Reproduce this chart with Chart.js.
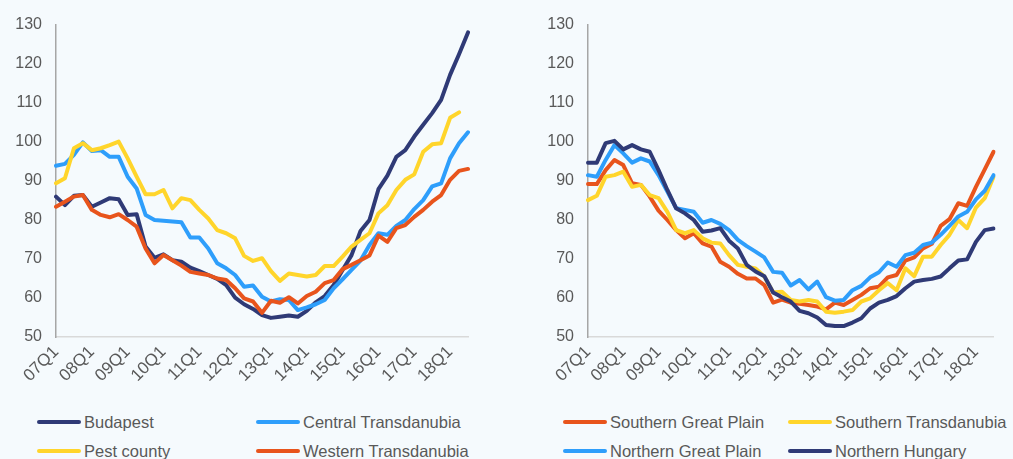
<!DOCTYPE html>
<html>
<head>
<meta charset="utf-8">
<script src="https://cdn.jsdelivr.net/npm/chart.js@4.4.1/dist/chart.umd.min.js"></script>
<style>
    body { margin: 0; background: #F5FAFD; width: 1013px; height: 459px; overflow: hidden; position: relative; }
    .box { position: absolute; top: 0; height: 400px; }
    .leg { position: absolute; height: 20px; display: flex; align-items: center; font: 16.5px 'Liberation Sans', Arial, sans-serif; color: #595959; white-space: nowrap; }
    .leg i { display: inline-block; width: 44px; height: 4px; border-radius: 2px; margin-right: 3px; }
</style>
</head>
<body>
<div class="box" style="left:0;width:506px"><canvas id="leftChart"></canvas></div>
<div class="box" style="left:506px;width:507px"><canvas id="rightChart"></canvas></div>
<div id="legends"></div>
<script>
const quarters = ['07Q1','07Q2','07Q3','07Q4','08Q1','08Q2','08Q3','08Q4','09Q1','09Q2','09Q3','09Q4',
    '10Q1','10Q2','10Q3','10Q4','11Q1','11Q2','11Q3','11Q4','12Q1','12Q2','12Q3','12Q4',
    '13Q1','13Q2','13Q3','13Q4','14Q1','14Q2','14Q3','14Q4','15Q1','15Q2','15Q3','15Q4',
    '16Q1','16Q2','16Q3','16Q4','17Q1','17Q2','17Q3','17Q4','18Q1','18Q2','18Q3'];
const yTicks = [50, 60, 70, 80, 90, 100, 110, 120, 130];

// left panel
const budapest = [86.0,83.8,86.2,86.4,83.4,84.5,85.6,85.3,81.3,81.5,73.2,70.3,71.2,69.7,69.3,67.8,66.9,65.9,64.9,63.3,
    60.1,58.4,57.2,55.6,54.9,55.2,55.5,55.2,56.7,58.9,60.5,63.3,67.2,71.0,77.2,80.0,87.9,91.4,96.2,97.9,
    101.4,104.4,107.4,110.8,117.2,122.5,128.1];
const centralTransdanubia = [93.9,94.4,96.7,99.9,97.7,97.9,96.2,96.2,91.1,88.1,81.3,80.0,79.8,79.6,79.4,75.5,75.5,72.7,68.9,67.6,
    65.9,62.9,63.2,60.3,59.1,59.7,59.5,56.9,57.6,58.4,59.5,62.5,64.8,67.2,69.6,73.6,76.6,76.2,78.5,80.0,
    82.8,85.1,88.6,89.4,95.8,99.7,102.5];
const pestCounty = [89.4,90.7,98.4,99.7,97.9,98.4,99.2,100.1,95.8,91.1,86.6,86.6,87.7,83.0,85.6,85.1,82.6,80.4,77.4,76.6,
    75.3,70.8,69.5,70.2,66.9,64.4,66.3,65.9,65.5,65.9,68.2,68.2,70.6,73.2,74.9,76.6,81.7,83.8,87.7,90.3,
    91.7,97.5,99.4,99.7,106.2,107.6,null];
const westernTransdanubia = [83.4,84.7,86.0,86.4,82.6,81.3,80.7,81.5,80.0,78.3,72.7,68.9,71.0,69.7,68.3,66.7,66.3,65.9,65.0,64.6,
    62.5,59.9,59.1,56.2,59.3,58.8,60.2,58.6,60.5,61.6,63.8,64.6,67.4,68.5,69.7,70.9,76.0,74.4,77.9,78.7,
    80.8,82.6,84.7,86.4,90.3,92.6,93.1];

// right panel
const southernGreatPlain = [89.2,89.2,92.8,95.4,94.1,89.4,89.0,86.0,82.4,80.0,77.4,75.3,76.6,74.0,73.2,69.3,68.0,66.2,65.0,65.0,
    63.3,58.8,59.6,58.8,58.5,58.2,57.8,57.1,58.8,58.2,59.5,60.8,62.5,62.9,65.3,65.9,69.6,70.4,72.7,73.9,
    78.5,80.2,84.3,83.6,88.5,93.0,97.5];
const southernTransdanubia = [85.1,86.2,91.1,91.5,92.4,88.5,89.0,86.4,85.6,82.1,77.4,76.6,77.4,75.3,74.2,74.0,71.0,68.5,68.0,67.6,
    65.5,61.4,61.6,59.5,59.1,59.5,59.1,56.5,56.2,56.5,56.9,59.1,59.9,62.0,63.8,62.0,67.6,65.6,70.6,70.6,
    73.6,76.2,80.0,77.9,83.2,85.6,91.1];
const northernGreatPlain = [91.5,91.1,95.4,99.2,97.1,94.7,95.8,95.0,91.5,87.3,83.0,82.6,82.1,79.3,80.0,79.0,77.4,74.9,73.3,71.9,
    70.4,66.7,66.5,63.2,64.6,62.2,64.2,60.2,59.3,59.5,62.0,63.1,65.3,66.6,69.1,68.0,71.0,71.6,73.6,74.2,
    76.2,78.5,80.9,82.1,85.3,87.5,91.5];
const northernHungary = [94.7,94.7,99.7,100.3,98.1,99.2,98.1,97.5,92.8,87.7,83.0,81.7,80.0,77.0,77.3,77.9,74.7,72.7,68.5,66.8,
    65.6,61.4,60.2,59.1,56.7,56.1,55.0,53.1,52.8,52.8,53.7,54.8,57.3,58.8,59.5,60.5,62.5,64.2,64.6,64.9,
    65.5,67.6,69.6,69.9,74.4,77.4,77.8];

const NAVY = '#2F3A76', BLUE = '#2E9EFB', YELLOW = '#FFD52B', ORANGE = '#E8541C';
const TEXT = '#595959';
const FONT = "'Liberation Sans', Arial, sans-serif";

const leftSeries = [
    { label: 'Budapest', data: budapest, color: NAVY },
    { label: 'Central Transdanubia', data: centralTransdanubia, color: BLUE },
    { label: 'Pest county', data: pestCounty, color: YELLOW },
    { label: 'Western Transdanubia', data: westernTransdanubia, color: ORANGE }
];
const rightSeries = [
    { label: 'Southern Great Plain', data: southernGreatPlain, color: ORANGE },
    { label: 'Southern Transdanubia', data: southernTransdanubia, color: YELLOW },
    { label: 'Northern Great Plain', data: northernGreatPlain, color: BLUE },
    { label: 'Northern Hungary', data: northernHungary, color: NAVY }
];

function makeChart(id, series, axisWidth, rightPad) {
    const ctx = document.getElementById(id).getContext('2d');
    return new Chart(ctx, {
        type: 'line',
        data: {
            labels: quarters,
            datasets: series.map((s, i) => ({
                label: s.label,
                data: s.data,
                borderColor: s.color,
                backgroundColor: s.color,
                borderWidth: 4,
                pointRadius: 0,
                tension: 0,
                borderCapStyle: 'round',
                borderJoinStyle: 'round',
                order: series.length - i
            }))
        },
        options: {
            responsive: true,
            maintainAspectRatio: false,
            animation: false,
            layout: { padding: { top: 25, right: rightPad, left: 0, bottom: 0 } },
            scales: {
                x: {
                    grid: { display: false, drawTicks: false },
                    border: { display: true, color: '#D9D9D9', width: 1.5 },
                    afterFit: scale => { scale.height = 63; },
                    ticks: {
                        autoSkip: false,
                        minRotation: 45,
                        maxRotation: 45,
                        padding: 5,
                        color: TEXT,
                        font: { family: FONT, size: 17 },
                        callback: (val, i) => i % 4 === 0 ? quarters[i] : ''
                    }
                },
                y: {
                    min: yTicks[0],
                    max: yTicks[yTicks.length - 1],
                    afterBuildTicks: scale => { scale.ticks = yTicks.map(v => ({ value: v })); },
                    grid: { display: false, drawTicks: false },
                    border: { display: true, color: '#A6A6A6', width: 1.5 },
                    afterFit: scale => { scale.width = axisWidth; },
                    ticks: {
                        padding: 14,
                        color: TEXT,
                        font: { family: FONT, size: 16 }
                    }
                }
            },
            plugins: {
                legend: { display: false },
                tooltip: { enabled: false }
            }
        }
    });
}

makeChart('leftChart', leftSeries, 56, 38);
makeChart('rightChart', rightSeries, 82, 13);

// legends laid out in two columns under each panel
const legendSpots = [
    [37, 412], [256, 412], [37, 441], [256, 441],
    [563, 412], [788, 412], [563, 441], [788, 441]
];
const holder = document.getElementById('legends');
leftSeries.concat(rightSeries).forEach((s, i) => {
    const el = document.createElement('div');
    el.className = 'leg';
    el.style.left = legendSpots[i][0] + 'px';
    el.style.top = legendSpots[i][1] + 'px';
    el.innerHTML = '<i style="background:' + s.color + '"></i><span>' + s.label + '</span>';
    holder.appendChild(el);
});
</script>
</body>
</html>
